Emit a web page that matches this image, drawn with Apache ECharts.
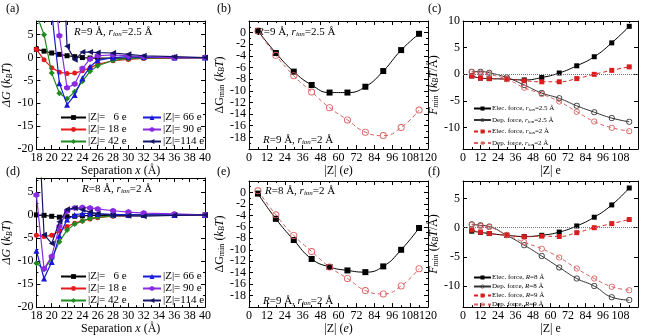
<!DOCTYPE html>
<html><head><meta charset="utf-8">
<script src="https://cdn.jsdelivr.net/npm/echarts@6/dist/echarts.min.js"></script>
<style>html,body{margin:0;padding:0;background:#fff}#c{width:650px;height:336px}</style>
</head><body><div id="c"></div>
<script>
// ---------- DATA ----------
const sepX = [18,19,20,21,22,23,24,25,26,28,30,32,36,40];
const zNames = ['|Z|=   6 e','|Z|= 18 e','|Z|= 42 e','|Z|= 66 e','|Z|= 90 e','|Z|=114 e'];
// panel (a): R=9 Å, r_ion=2.5 Å
const a_z6   = [1.8,1.4,1.0,0.7,0.4,0.2,0.0,-0.1,-0.1,-0.1,-0.1,0,0,0];
const a_z18  = [1.8,-0.5,-2.2,-3.2,-3.5,-3.4,-2.9,-2.2,-1.5,-0.7,-0.4,-0.2,-0.1,0];
const a_z42  = [9.5,5.0,-3.4,-7.8,-9.0,-7.5,-5.2,-3.0,-1.8,-0.6,-0.2,-0.1,0,0];
const a_z66  = [null,null,10,-5.6,-10.3,-8.2,-4.5,-2.0,-0.6,0,0.2,0.1,0,0];
const a_z90  = [null,null,20,4.8,-6.6,-5.8,-2.4,-0.3,0.4,0.6,0.4,0.2,0,0];
const a_z114 = [null,null,null,40,2.5,-0.5,1.2,1.2,1.1,1.0,0.7,0.4,0.2,0];
// panel (d): R=8 Å, r_ion=2 Å
const d_z6   = [0,-0.1,-0.3,-0.5,-0.4,-0.3,-0.2,-0.1,-0.1,-0.1,0,0,0,0];
const d_z18  = [-4.4,-4.7,-4.4,-3.5,-2.5,-1.8,-1.3,-0.9,-0.6,-0.3,-0.2,-0.1,0,0];
const d_z42  = [-10.5,-11.8,-9.5,-5.8,-3.3,-2.0,-1.3,-0.8,-0.5,-0.2,-0.1,0,0,0];
const d_z66  = [-7.8,-13.8,-10.2,-4.5,-1.0,0.0,0.3,0.3,0.2,0.1,0,0,0,0];
const d_z90  = [4.3,-11.7,-9.0,-2.5,0.8,1.5,1.6,1.5,1.3,0.9,0.6,0.4,0.2,0];
const d_z114 = [30,-4.3,-6.2,-1.5,1.2,1.5,1.1,0.6,0.3,-0.1,-0.2,-0.3,-0.1,0];
// panels (b),(e): ΔG_min vs |Z|
const zVals = [6,18,30,42,54,66,78,90,102,114];
const b_R9r25 = [0.3,-3.5,-6.7,-9.0,-10.3,-10.3,-9.3,-6.6,-3.0,-0.2];
const b_R9r2  = [0.3,-3.9,-7.4,-10.2,-12.9,-15.0,-17.1,-17.7,-16.3,-13.3];
const e_R8r2  = [-0.2,-4.6,-8.3,-11.6,-13.0,-13.6,-13.9,-12.9,-10.0,-6.2];
const e_R9r2  = [0.3,-3.9,-7.5,-10.3,-13.0,-15.0,-17.1,-17.7,-16.3,-13.3];
// panels (c),(f): F_min vs |Z|
const fZ = [6,12,18,30,42,54,66,78,90,102,114];
const c_elec25 = [-0.3,-0.7,-0.8,-0.9,-1.05,-0.6,0.25,1.6,3.3,5.9,9.0];
const c_dep25  = [0.5,0.5,0.3,-0.6,-2.0,-3.5,-4.5,-5.9,-7.1,-8.2,-8.9];
const c_elec2  = [-0.3,-0.7,-0.8,-0.9,-1.2,-1.4,-1.4,-0.8,0.0,0.75,1.4];
const c_dep2   = [0.4,0.3,0.0,-0.9,-2.5,-3.7,-5.1,-7.0,-8.85,-10.0,-10.65];
const f_elec8  = [-0.6,-0.8,-1.0,-1.3,-1.5,-1.3,-0.75,0.3,1.8,3.9,6.8];
const f_dep8   = [0.6,0.4,0.2,-1.3,-3.0,-4.85,-6.8,-8.7,-10.0,-11.9,-12.4];
const f_elec9  = [-0.4,-0.75,-1.0,-1.3,-1.55,-1.45,-1.5,-0.85,0.0,0.7,1.4];
const f_dep9   = [0.5,0.3,0.1,-1.2,-2.5,-3.6,-5.1,-7.0,-8.7,-10.1,-10.7];

// ---------- STYLE ----------
const FONT = 'Liberation Serif';
function richSet(fs){
  const sub = Math.round(fs*0.68);
  const b = {fontFamily:FONT,color:'#000',fontWeight:'normal'};
  return {
    n:Object.assign({fontSize:fs},b),
    i:Object.assign({fontSize:fs,fontStyle:'italic'},b),
    s:Object.assign({fontSize:sub,fontStyle:'italic',padding:[Math.round(fs*0.45),0,0,0]},b),
    sn:Object.assign({fontSize:sub,padding:[Math.round(fs*0.45),0,0,0]},b)
  };
}
const zColors = ['#000000','#e41a1c','#1f8a1f','#1818d8','#8a2be2','#141466'];
const hexagon = 'path://M5,0 L9.33,2.5 L9.33,7.5 L5,10 L0.67,7.5 L0.67,2.5 Z';
const ring = 'path://M0,5 A5,5 0 1,1 10,5 A5,5 0 1,1 0,5 Z M1.3,5 A3.7,3.7 0 1,0 8.7,5 A3.7,3.7 0 1,0 1.3,5 Z';
const zSyms = [['rect',5,0],['circle',5,0],['diamond',6,0],['triangle',6,0],[hexagon,6,0],['triangle',6,90]];
const RED = '#d81e1e';
const PINK = '#d86060';

const grids = [
  {left:30, top:21, width:175, height:128},
  {left:249, top:21, width:179, height:128},
  {left:463, top:21, width:181, height:128},
  {left:30, top:178, width:175, height:131},
  {left:249, top:181, width:179, height:128},
  {left:463, top:181, width:181, height:128}
];

function pairs(xs, ys){ const r=[]; xs.forEach((x,i)=>{ if(ys[i]!=null) r.push([x,ys[i]]); }); return r; }

const xAxes=[], yAxes=[];
function addAxes(g, xc, yc){
  const base = {gridIndex:g, type:'value', splitLine:{show:false},
    axisLine:{onZero:false, lineStyle:{color:'#000',width:1}},
    axisTick:{inside:true,length:4,lineStyle:{color:'#000'}},
    minorTick:{show:true,splitNumber:2,length:2,lineStyle:{color:'#000'}}};
  const lab = {color:'#000',fontFamily:FONT,fontSize:12,margin:3,interval:0, hideOverlap:false};
  xAxes.push(Object.assign({}, base, {position:'bottom', min:xc.min, max:xc.max, interval:xc.interval,
    axisLabel:Object.assign({},lab,xc.label||{}), name:xc.name, nameLocation:'middle', nameGap:xc.gap,
    nameTextStyle:{rich:richSet(12)}}));
  xAxes.push(Object.assign({}, base, {position:'top', min:xc.min, max:xc.max, interval:xc.interval, axisLabel:{show:false}}));
  const yb = Object.assign({}, base, yc.custom ? {minorTick:{show:false}} : {});
  const ylab = Object.assign({}, lab, yc.label||{});
  const ytick = Object.assign({}, base.axisTick);
  if (yc.custom){ ylab.customValues = yc.custom; ytick.customValues = yc.custom; }
  yAxes.push(Object.assign({}, yb, {position:'left', min:yc.min, max:yc.max, interval:yc.interval,
    axisLabel:ylab, axisTick:ytick, name:yc.name, nameLocation:'middle', nameGap:yc.gap, nameRotate:90,
    nameTextStyle:{rich:richSet(12)}}));
  yAxes.push(Object.assign({}, yb, {position:'right', min:yc.min, max:yc.max, interval:yc.interval,
    axisLabel:{show:false}, axisTick:Object.assign({},ytick)}));
}
const hide8 = {formatter: v => (v===8 ? '' : String(v))};
const sepName = '{n|Separation }{i|x}{n| (Å)}';
const dgName = '{i|ΔG} {n|(}{i|k}{s|B}{i|T}{n|)}';
const dgMinName = '{n|ΔG}{sn|min} {n|(}{i|k}{s|B}{i|T}{n|)}';
const fName = '{i|F}{s|min} {n|(}{i|k}{s|B}{i|T}{n|/Å)}';
addAxes(0,{min:18,max:40,interval:2,name:sepName,gap:12},{min:-20,max:8,interval:5,label:hide8,name:dgName,gap:18});
addAxes(1,{min:0,max:120,interval:12,name:'{n||Z| (}{i|e}{n|)}',gap:12},{min:-20,max:2,interval:2,name:dgMinName,gap:23});
addAxes(2,{min:0,max:120,interval:12,name:'{n||Z| e}',gap:12},{min:-14,max:10,interval:5,custom:[-10,-5,0,5,10],name:fName,gap:20});
addAxes(3,{min:18,max:40,interval:2,name:sepName,gap:12},{min:-20,max:8,interval:5,label:hide8,name:dgName,gap:18});
addAxes(4,{min:0,max:120,interval:12,name:'{n||Z| (}{i|e}{n|)}',gap:12},{min:-20,max:2,interval:2,name:dgMinName,gap:23});
addAxes(5,{min:0,max:120,interval:12,name:'{n||Z| e}',gap:12},{min:-13.6,max:8,interval:5,custom:[-10,-5,0,5],name:fName,gap:20});

const series=[];
function zSeries(g, arrs){
  arrs.forEach((ys,k)=>{
    series.push({type:'line', name:zNames[k], xAxisIndex:2*g, yAxisIndex:2*g, data:pairs(sepX,ys),
      symbol:zSyms[k][0], symbolSize:zSyms[k][1], symbolRotate:zSyms[k][2], showAllSymbol:true,
      color:zColors[k], lineStyle:{width:1.2,color:zColors[k]}, itemStyle:{color:zColors[k]}, clip:true, z:2+k, animation:false});
  });
}
zSeries(0,[a_z6,a_z18,a_z42,a_z66,a_z90,a_z114]);
zSeries(3,[d_z6,d_z18,d_z42,d_z66,d_z90,d_z114]);

function s(g,name,xs,ys,sym,size,color,dashed,extra){
  series.push(Object.assign({type:'line',name:name,xAxisIndex:2*g,yAxisIndex:2*g,data:pairs(xs,ys),
    symbol:sym,symbolSize:size,smooth:0.5,showAllSymbol:true,color:color,
    itemStyle:{color:color,borderWidth:0},
    lineStyle:{width:1,color:color,type:dashed?[4,3]:'solid'},clip:true,animation:false},extra||{}));
}
const zeroLine = {markLine:{silent:true,symbol:'none',label:{show:false},animation:false,
  lineStyle:{type:'dotted',color:'#777',width:1},data:[{yAxis:0}]}};
// (b)
s(1,'bR9r25',zVals,b_R9r25,'rect',6,'#000',false);
s(1,'bR9r2',zVals,b_R9r2,ring,7,PINK,true);
// (e)
s(4,'eR8r2',zVals,e_R8r2,'rect',6,'#000',false);
s(4,'eR9r2',zVals,e_R9r2,ring,7,PINK,true);
// (c)
s(2,'cE25',fZ,c_elec25,'rect',5,'#000',false,zeroLine);
s(2,'cD25',fZ,c_dep25,ring,6,'#333',false);
s(2,'cE2',fZ,c_elec2,'rect',5,RED,true);
s(2,'cD2',fZ,c_dep2,ring,6,PINK,true);
// (f)
s(5,'fE8',fZ,f_elec8,'rect',5,'#000',false,zeroLine);
s(5,'fD8',fZ,f_dep8,ring,6,'#333',false);
s(5,'fE9',fZ,f_elec9,'rect',5,RED,true);
s(5,'fD9',fZ,f_dep9,ring,6,PINK,true);

const legLabels = {
  cE25:'{n|Elec. force, }{i|r}{s|ion}{n|=2.5 Å}',
  cD25:'{n|Dep. force, }{i|r}{s|ion}{n|=2.5 Å}',
  cE2:'{n|Elec. force, }{i|r}{s|ion}{n|=2 Å}',
  cD2:'{n|Dep. force, }{i|r}{s|ion}{n|=2 Å}',
  fE8:'{n|Elec. force, }{i|R}{n|=8 Å}',
  fD8:'{n|Dep. force, }{i|R}{n|=8 Å}',
  fE9:'{n|Elec. force, }{i|R}{n|=9 Å}',
  fD9:'{n|Dep. force, }{i|R}{n|=9 Å}'
};
const zLeg = (left,top,names,w)=>({orient:'vertical',left:left,top:top,data:names,itemWidth:w,itemHeight:6,itemGap:1,
  selectedMode:false,textStyle:{fontFamily:FONT,fontSize:11,color:'#000',padding:[0,0,0,-3]}});
const fLeg = (left,top,names,gap)=>({orient:'vertical',left:left,top:top,data:names,itemWidth:17,itemHeight:5,itemGap:gap,
  selectedMode:false,formatter:n=>legLabels[n],textStyle:{rich:richSet(7),padding:[0,0,0,-4]}});

const titles = [
  {text:'(a)',left:6,top:3},{text:'(b)',left:217,top:3},{text:'(c)',left:428,top:3},
  {text:'(d)',left:6,top:166},{text:'(e)',left:217,top:166},{text:'(f)',left:428,top:166}
].map(t=>Object.assign(t,{textStyle:{fontFamily:FONT,fontSize:12,fontWeight:'normal',color:'#000'},padding:0}));
function ann(text,left,top){ return {text:text,left:left,top:top,padding:0,textStyle:{fontSize:11,fontWeight:'normal',rich:richSet(11)}}; }
titles.push(ann('{i|R}{n|=9 Å, }{i|r}{s|ion}{n|=2.5 Å}',74,26));
titles.push(ann('{i|R}{n|=9 Å, }{i|r}{s|ion}{n|=2.5 Å}',257,26));
titles.push(ann('{i|R}{n|=9 Å, }{i|r}{s|ion}{n|=2 Å}',263,134));
titles.push(ann('{i|R}{n|=8 Å, }{i|r}{s|ion}{n|=2 Å}',82,183));
titles.push(ann('{i|R}{n|=8 Å, }{i|r}{s|ion}{n|=2 Å}',265,185));
titles.push(ann('{i|R}{n|=9 Å, }{i|r}{s|ion}{n|=2 Å}',263,295));

const chart = echarts.init(document.getElementById('c'),null,{renderer:'canvas'});
chart.setOption({
  animation:false, backgroundColor:'#fff',
  title:titles,
  grid:grids,
  xAxis:xAxes, yAxis:yAxes,
  legend:[
    zLeg(55,107,zNames.slice(0,3),25), zLeg(137,107,zNames.slice(3),18),
    zLeg(55,266,zNames.slice(0,3),25), zLeg(137,266,zNames.slice(3),18),
    fLeg(468,100,['cE25','cD25','cE2','cD2'],4),
    fLeg(468,269,['fE8','fD8','fE9','fD9'],2)
  ],
  series:series
});
</script></body></html>
